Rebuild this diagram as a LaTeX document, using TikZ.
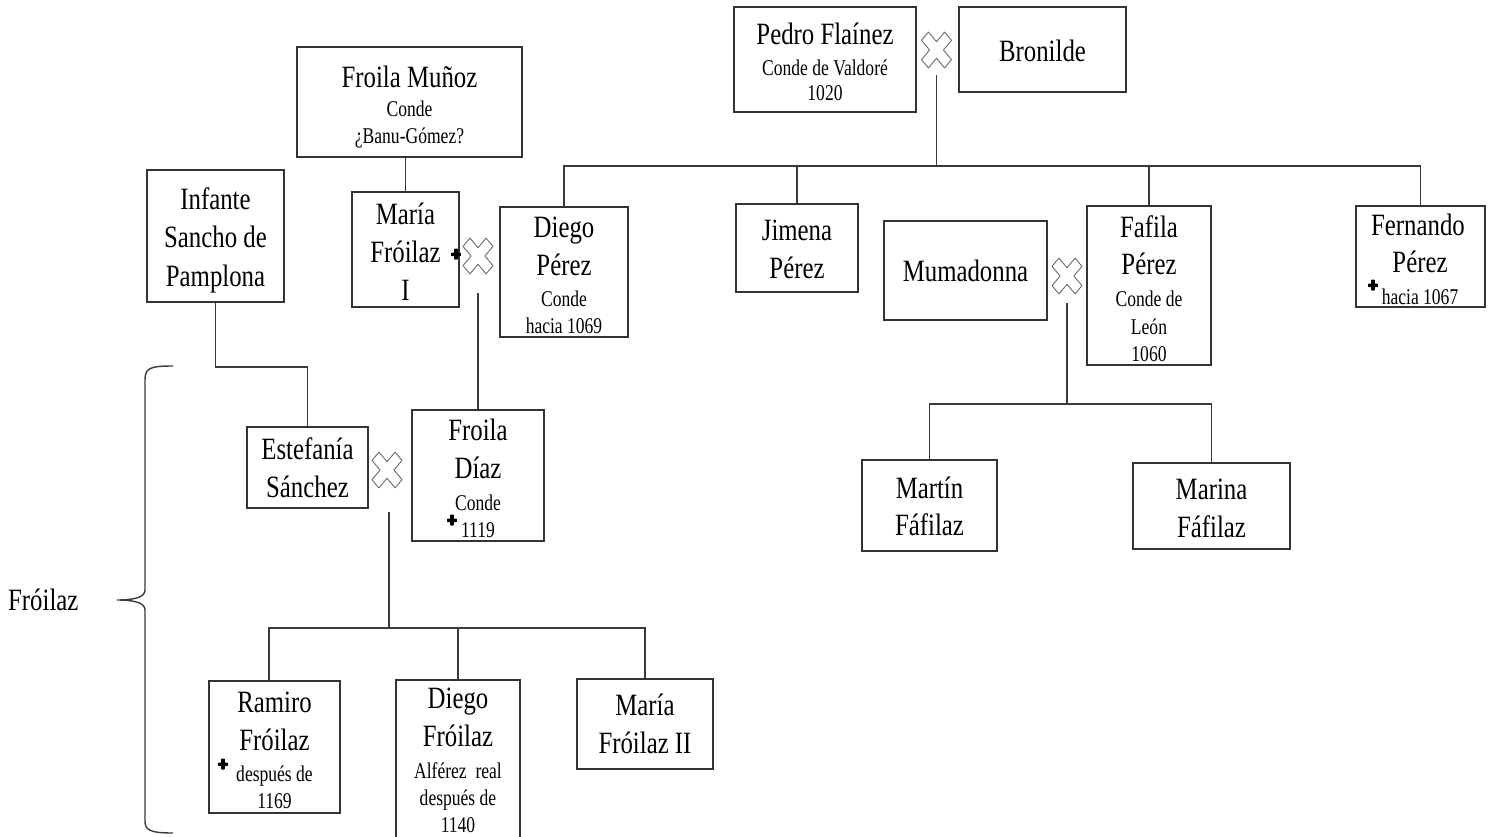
\documentclass[tikz,border=0pt]{standalone}
\usepackage{fontspec}
\setmainfont{Liberation Serif}[FakeStretch=0.8]
\newfontfamily\subfam{Liberation Serif}[FakeStretch=0.78]
\usetikzlibrary{calc}
\newcommand\bigtxt{\fontsize{31}{38}\selectfont}
\newcommand\smalltxt{\subfam\fontsize{22.5}{27}\selectfont}
\definecolor{boxgray}{HTML}{333333}
\definecolor{linegray}{HTML}{3A3A3A}
\definecolor{wedgray}{HTML}{6A6A6A}
\tikzset{
  box/.style={draw=boxgray, line width=1.5pt, inner sep=0pt, fill=white},
  conn/.style={draw=linegray, line width=1.5pt},
  nm/.style={font=\bigtxt, anchor=base, inner sep=0pt},
  sub/.style={font=\smalltxt, anchor=base, inner sep=0pt},
  wed/.pic={
    \draw[draw=wedgray, line width=0.9pt, line join=round, xscale=16.3, yscale=19.5, rotate=45]
      (0.3,0.3)--(0.3,1)--(-0.3,1)--(-0.3,0.3)--(-1,0.3)--(-1,-0.3)--(-0.3,-0.3)
      --(-0.3,-1)--(0.3,-1)--(0.3,-0.3)--(1,-0.3)--(1,0.3)--cycle;
  },
  dag/.pic={
    \fill[black, rounded corners=0.6pt] (-1.8,-5.5) rectangle (1.8,5.5);
    \fill[black, rounded corners=0.6pt] (-4.8,-1.4) rectangle (4.8,2.2);
  }
}
\begin{document}
\begin{tikzpicture}[x=1pt, y=-1pt]
\useasboundingbox (0,0) rectangle (1494,836);
\clip (0,0) rectangle (1494,836);

% ---- boxes ----
\node[box, minimum width=182pt, minimum height=105pt] (pedro)    at (825,59.5) {};
\node[box, minimum width=167pt, minimum height=85pt]  (bronilde) at (1042.5,49.5) {};
\node[box, minimum width=225pt, minimum height=110pt] (froilaM)  at (409.5,102) {};
\node[box, minimum width=107pt, minimum height=115pt] (mariaI)   at (405.5,249.5) {};
\node[box, minimum width=128pt, minimum height=130pt] (diegoP)   at (564,272) {};
\node[box, minimum width=122pt, minimum height=88pt]  (jimena)   at (797,248) {};
\node[box, minimum width=163pt, minimum height=99pt]  (muma)     at (965.5,270.5) {};
\node[box, minimum width=124pt, minimum height=159pt] (fafila)   at (1149,285.5) {};
\node[box, minimum width=129pt, minimum height=101pt] (fernando) at (1420.5,256.5) {};
\node[box, minimum width=137pt, minimum height=132pt] (infante)  at (215.5,236) {};
\node[box, minimum width=121pt, minimum height=81pt]  (estef)    at (307.5,467.5) {};
\node[box, minimum width=132pt, minimum height=131pt] (froilaD)  at (478,475.5) {};
\node[box, minimum width=135pt, minimum height=91pt]  (martin)   at (929.5,505.5) {};
\node[box, minimum width=157pt, minimum height=86pt]  (marina)   at (1211.5,506) {};
\node[box, minimum width=131pt, minimum height=132pt] (ramiro)   at (274.5,747) {};
\node[box, minimum width=124pt, minimum height=170pt] (diegoF)   at (458,765) {};
\node[box, minimum width=136pt, minimum height=90pt]  (mariaII)  at (645,724) {};

% ---- marriage marks ----
\coordinate (m1) at (936.5,50);
\coordinate (m2) at (478,256);
\coordinate (m3) at (1067,276);
\coordinate (m4) at (387,470);
\foreach \m in {m1,m2,m3,m4} \pic at (\m) {wed};

% ---- junction points ----
\coordinate (j1) at (936.5,166);
\coordinate (j2) at (1067,404);
\coordinate (j3) at (389,628);
\coordinate (k1) at (307.5,367);

% ---- connectors ----
\draw[conn] ($(m1)+(0,25)$) -- (j1);
\draw[conn] (diegoP.north) |- (j1) -| (fernando.north);
\draw[conn] (jimena.north) -- (jimena.north |- j1);
\draw[conn] (fafila.north) -- (fafila.north |- j1);
\draw[conn] (mariaI.north) -- (mariaI.north |- froilaM.south);
\draw[conn] ($(m2)+(0,37)$) -- (froilaD.north);
\draw[conn] ($(m3)+(0,27)$) -- (j2);
\draw[conn] (martin.north) |- (j2) -| (marina.north);
\draw[conn] (infante.south) |- (k1) -- (estef.north);
\draw[conn] ($(m4)+(2,42)$) -- (j3);
\coordinate (r1) at (269,680);
\draw[conn] (r1) |- (j3) -| (mariaII.north);
\draw[conn] (diegoF.north) -- (diegoF.north |- j3);

% ---- texts ----
\node[nm]  (t-pedro1) at (825,44) {Pedro Flaínez};
\node[sub] (t-pedro2) at (825,75) {Conde de Valdoré};
\node[sub] (t-pedro3) at (825,100) {1020};
\node[nm]  (t-bron)   at (1042.5,61) {Bronilde};

\node[nm]  (t-fm1) at (409.5,87) {Froila Muñoz};
\node[sub] (t-fm2) at (409.5,116) {Conde};
\node[sub] (t-fm3) at (409.5,143) {¿Banu-Gómez?};

\node[nm] (t-mi1) at (405.5,224) {María};
\node[nm] (t-mi2) at (405.5,262) {Fróilaz};
\node[nm] (t-mi3) at (405.5,300) {I};
\pic at (456,254) {dag};

\node[nm]  (t-dp1) at (564,237) {Diego};
\node[nm]  (t-dp2) at (564,275) {Pérez};
\node[sub] (t-dp3) at (564,306) {Conde};
\node[sub] (t-dp4) at (564,333) {hacia 1069};

\node[nm] (t-ji1) at (797,240) {Jimena};
\node[nm] (t-ji2) at (797,278) {Pérez};

\node[nm] (t-mu) at (965.5,281) {Mumadonna};

\node[nm]  (t-fa1) at (1149,237) {Fafila};
\node[nm]  (t-fa2) at (1149,274) {Pérez};
\node[sub] (t-fa3) at (1149,306) {Conde de};
\node[sub] (t-fa4) at (1149,334) {León};
\node[sub] (t-fa5) at (1149,361) {1060};

\node[nm]  (t-fe1) at (1418,235) {Fernando};
\node[nm]  (t-fe2) at (1420,272) {Pérez};
\node[sub] (t-fe3) at (1420,304) {hacia 1067};
\pic at (1373,285) {dag};

\node[nm] (t-in1) at (215.5,209) {Infante};
\node[nm] (t-in2) at (215.5,247) {Sancho de};
\node[nm] (t-in3) at (215.5,286) {Pamplona};

\node[nm] (t-es1) at (307.5,459) {Estefanía};
\node[nm] (t-es2) at (307.5,497) {Sánchez};

\node[nm]  (t-fd1) at (478,440) {Froila};
\node[nm]  (t-fd2) at (478,478) {Díaz};
\node[sub] (t-fd3) at (478,510) {Conde};
\node[sub] (t-fd4) at (478,537) {1119};
\pic at (452,520) {dag};

\node[nm] (t-ma1) at (929.5,498) {Martín};
\node[nm] (t-ma2) at (929.5,535) {Fáfilaz};

\node[nm] (t-mr1) at (1211.5,499) {Marina};
\node[nm] (t-mr2) at (1211.5,537) {Fáfilaz};

\node[nm]  (t-ra1) at (274.5,712) {Ramiro};
\node[nm]  (t-ra2) at (274.5,750) {Fróilaz};
\node[sub] (t-ra3) at (274.5,781) {después de};
\node[sub] (t-ra4) at (274.5,808) {1169};
\pic at (223,764) {dag};

\node[nm]  (t-df1) at (458,708) {Diego};
\node[nm]  (t-df2) at (458,746) {Fróilaz};
\node[sub] (t-df3) at (458,778) {Alférez\ \ real};
\node[sub] (t-df4) at (458,805) {después de};
\node[sub] (t-df5) at (458,832) {1140};

\node[nm] (t-m21) at (645,715) {María};
\node[nm] (t-m22) at (645,753) {Fróilaz II};

% ---- family brace ----
\draw[conn, line width=1.4pt] (173,366) .. controls (150,366) and (145,368) .. (145,380)
  -- (145,590) .. controls (145,597) and (135,600) .. (117,600)
  .. controls (135,600) and (145,603) .. (145,610)
  -- (145,821) .. controls (145,830) and (150,833) .. (173,833);
\node[nm, anchor=base west] (t-froilaz) at (8,610) {Fróilaz};
\end{tikzpicture}
\end{document}
